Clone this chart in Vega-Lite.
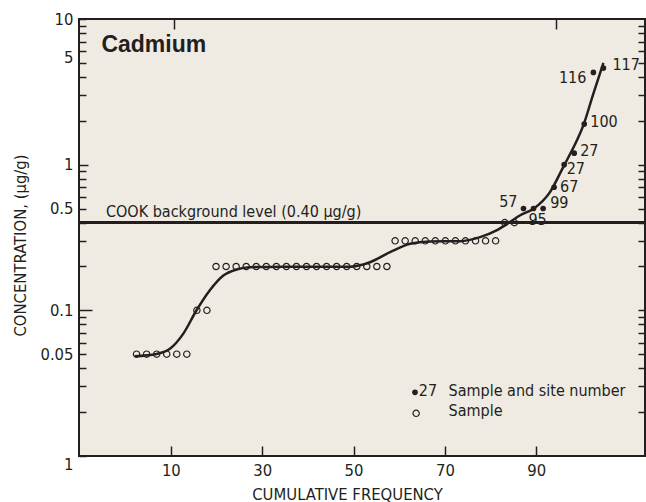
{
  "$schema": "https://vega.github.io/schema/vega-lite/v6.json",
  "width": 566,
  "height": 437,
  "autosize": {"type": "none"},
  "padding": {"left": 79, "top": 19, "right": 1, "bottom": 46},
  "background": "white",
  "config": {
    "view": {"fill": "#efebe2", "stroke": "#231f20", "strokeWidth": 2},
    "font": "DejaVu Sans Condensed",
    "axis": {
      "labelFont": "DejaVu Sans Condensed",
      "labelFontSize": 16.5,
      "labelColor": "#231f20",
      "tickColor": "#231f20",
      "tickWidth": 1.5,
      "titleFont": "DejaVu Sans Condensed",
      "titleFontSize": 16.5,
      "titleFontWeight": "normal",
      "titleColor": "#231f20",
      "domain": false,
      "grid": false,
      "labelFlush": false,
      "labelOverlap": false
    },
    "text": {"font": "DejaVu Sans Condensed", "fontSize": 16, "color": "#231f20"}
  },
  "datasets": {
    "samples": [
      {"n": 1, "freq": 2.5, "conc": 0.05, "kind": "Sample", "site": ""},
      {"n": 2, "freq": 4.7, "conc": 0.05, "kind": "Sample", "site": ""},
      {"n": 3, "freq": 6.9, "conc": 0.05, "kind": "Sample", "site": ""},
      {"n": 4, "freq": 9.1, "conc": 0.05, "kind": "Sample", "site": ""},
      {"n": 5, "freq": 11.3, "conc": 0.05, "kind": "Sample", "site": ""},
      {"n": 6, "freq": 13.5, "conc": 0.05, "kind": "Sample", "site": ""},
      {"n": 7, "freq": 15.7, "conc": 0.1, "kind": "Sample", "site": ""},
      {"n": 8, "freq": 17.9, "conc": 0.1, "kind": "Sample", "site": ""},
      {"n": 9, "freq": 19.9, "conc": 0.2, "kind": "Sample", "site": ""},
      {"n": 10, "freq": 22.1, "conc": 0.2, "kind": "Sample", "site": ""},
      {"n": 11, "freq": 24.3, "conc": 0.2, "kind": "Sample", "site": ""},
      {"n": 12, "freq": 26.5, "conc": 0.2, "kind": "Sample", "site": ""},
      {"n": 13, "freq": 28.7, "conc": 0.2, "kind": "Sample", "site": ""},
      {"n": 14, "freq": 30.9, "conc": 0.2, "kind": "Sample", "site": ""},
      {"n": 15, "freq": 33.1, "conc": 0.2, "kind": "Sample", "site": ""},
      {"n": 16, "freq": 35.3, "conc": 0.2, "kind": "Sample", "site": ""},
      {"n": 17, "freq": 37.5, "conc": 0.2, "kind": "Sample", "site": ""},
      {"n": 18, "freq": 39.7, "conc": 0.2, "kind": "Sample", "site": ""},
      {"n": 19, "freq": 41.9, "conc": 0.2, "kind": "Sample", "site": ""},
      {"n": 20, "freq": 44.1, "conc": 0.2, "kind": "Sample", "site": ""},
      {"n": 21, "freq": 46.3, "conc": 0.2, "kind": "Sample", "site": ""},
      {"n": 22, "freq": 48.5, "conc": 0.2, "kind": "Sample", "site": ""},
      {"n": 23, "freq": 50.7, "conc": 0.2, "kind": "Sample", "site": ""},
      {"n": 24, "freq": 52.9, "conc": 0.2, "kind": "Sample", "site": ""},
      {"n": 25, "freq": 55.1, "conc": 0.2, "kind": "Sample", "site": ""},
      {"n": 26, "freq": 57.3, "conc": 0.2, "kind": "Sample", "site": ""},
      {"n": 27, "freq": 59.1, "conc": 0.3, "kind": "Sample", "site": ""},
      {"n": 28, "freq": 61.3, "conc": 0.3, "kind": "Sample", "site": ""},
      {"n": 29, "freq": 63.5, "conc": 0.3, "kind": "Sample", "site": ""},
      {"n": 30, "freq": 65.7, "conc": 0.3, "kind": "Sample", "site": ""},
      {"n": 31, "freq": 67.9, "conc": 0.3, "kind": "Sample", "site": ""},
      {"n": 32, "freq": 70.1, "conc": 0.3, "kind": "Sample", "site": ""},
      {"n": 33, "freq": 72.3, "conc": 0.3, "kind": "Sample", "site": ""},
      {"n": 34, "freq": 74.5, "conc": 0.3, "kind": "Sample", "site": ""},
      {"n": 35, "freq": 76.7, "conc": 0.3, "kind": "Sample", "site": ""},
      {"n": 36, "freq": 78.9, "conc": 0.3, "kind": "Sample", "site": ""},
      {"n": 37, "freq": 81.1, "conc": 0.3, "kind": "Sample", "site": ""},
      {"n": 38, "freq": 83.1, "conc": 0.4, "kind": "Sample", "site": ""},
      {"n": 39, "freq": 85.2, "conc": 0.4, "kind": "Sample", "site": ""},
      {"n": 40, "freq": 87.2, "conc": 0.5, "kind": "Site", "site": "57"},
      {"n": 41, "freq": 89.4, "conc": 0.5, "kind": "Site", "site": "95"},
      {"n": 42, "freq": 91.5, "conc": 0.5, "kind": "Site", "site": "99"},
      {"n": 43, "freq": 93.9, "conc": 0.7, "kind": "Site", "site": "67"},
      {"n": 44, "freq": 96.1, "conc": 1.0, "kind": "Site", "site": "27"},
      {"n": 45, "freq": 98.3, "conc": 1.2, "kind": "Site", "site": "27"},
      {"n": 46, "freq": 100.5, "conc": 1.9, "kind": "Site", "site": "100"},
      {"n": 47, "freq": 102.5, "conc": 4.3, "kind": "Site", "site": "116"},
      {"n": 48, "freq": 104.7, "conc": 4.6, "kind": "Site", "site": "117"}
    ],
    "curve": [
      {"freq": 2.1, "conc": 0.0484},
      {"freq": 6.9, "conc": 0.0502},
      {"freq": 9.8, "conc": 0.0544},
      {"freq": 12.7, "conc": 0.0689},
      {"freq": 15.6, "conc": 0.0997},
      {"freq": 18.5, "conc": 0.1368},
      {"freq": 21.5, "conc": 0.1734},
      {"freq": 24.4, "conc": 0.1908},
      {"freq": 27.3, "conc": 0.1978},
      {"freq": 35.0, "conc": 0.199},
      {"freq": 49.2, "conc": 0.1995},
      {"freq": 53.6, "conc": 0.214},
      {"freq": 58.0, "conc": 0.2507},
      {"freq": 62.4, "conc": 0.2864},
      {"freq": 66.7, "conc": 0.297},
      {"freq": 73.3, "conc": 0.298},
      {"freq": 77.7, "conc": 0.318},
      {"freq": 81.3, "conc": 0.3535},
      {"freq": 84.2, "conc": 0.403},
      {"freq": 86.4, "conc": 0.448},
      {"freq": 89.4, "conc": 0.498},
      {"freq": 93.0, "conc": 0.648},
      {"freq": 95.9, "conc": 0.963},
      {"freq": 98.9, "conc": 1.469},
      {"freq": 100.3, "conc": 1.862},
      {"freq": 102.5, "conc": 3.076},
      {"freq": 104.7, "conc": 5.0}
    ],
    "notes": [
      {"role": "title", "freq": -5.2, "conc": 5.94, "text": "Cadmium"},
      {"role": "cook", "freq": -4.2, "conc": 0.436, "text": "COOK background level (0.40 µg/g)"},
      {"role": "leg", "freq": 70.8, "conc": 0.02597, "text": "Sample and site number"},
      {"role": "leg", "freq": 70.8, "conc": 0.01892, "text": "Sample"},
      {"role": "legnum", "freq": 64.3, "conc": 0.02811, "text": "27"}
    ],
    "legendmarks": [
      {"freq": 63.45, "conc": 0.02736, "kind": "Site"},
      {"freq": 63.7, "conc": 0.01963, "kind": "Sample"}
    ]
  },
  "data": {"name": "samples"},
  "resolve": {"axis": {"x": "independent", "y": "independent"}},
  "layer": [
    {
      "transform": [{"filter": "datum.kind == 'Sample'"}],
      "mark": {"type": "point", "shape": "circle", "filled": false, "stroke": "#231f20", "strokeWidth": 1.2, "size": 40, "opacity": 1},
      "encoding": {
        "x": {
          "field": "freq", "type": "quantitative",
          "scale": {"domain": [-10.1, 113.8], "nice": false, "zero": false},
          "axis": {
            "orient": "bottom",
            "values": [10, 30, 50, 70, 90],
            "tickSize": -10,
            "labelPadding": 16,
            "title": "CUMULATIVE FREQUENCY",
            "titleX": 268,
            "titleY": 43,
            "titleBaseline": "alphabetic",
            "titleAlign": "center"
          }
        },
        "y": {
          "field": "conc", "type": "quantitative",
          "scale": {"type": "log", "domain": [0.01, 10], "nice": false},
          "axis": {
            "orient": "left",
            "values": [0.01, 0.02, 0.03, 0.04, 0.05, 0.06, 0.07, 0.08, 0.09, 0.1, 0.2, 0.3, 0.4, 0.5, 0.6, 0.7, 0.8, 0.9, 1, 2, 3, 4, 5, 6, 7, 8, 9, 10],
            "labelExpr": "datum.value == 10 ? '10' : datum.value == 5 ? '5' : datum.value == 1 ? '1' : datum.value == 0.5 ? '0.5' : datum.value == 0.1 ? '0.1' : datum.value == 0.05 ? '0.05' : datum.value == 0.01 ? '1' : ''",
            "labelBaseline": {"condition": [{"test": "datum.value == 5", "value": "alphabetic"}, {"test": "datum.value == 0.01", "value": "top"}], "value": "middle"},
            "tickSize": {"condition": [{"test": "datum.value == 0.1", "value": -13}, {"test": "datum.value == 1", "value": -9}], "value": -7},
            "labelPadding": {"condition": [{"test": "datum.value == 0.1", "value": 19}, {"test": "datum.value == 1", "value": 15}], "value": 13},
            "title": "CONCENTRATION, (µg/g)",
            "titleAngle": 270,
            "titleX": -59,
            "titleY": 226,
            "titleBaseline": "middle",
            "titleAlign": "center"
          }
        }
      }
    },
    {
      "data": {"name": "curve"},
      "mark": {"type": "line", "interpolate": "monotone", "stroke": "#231f20", "strokeWidth": 2.5},
      "encoding": {
        "x": {"field": "freq", "type": "quantitative",
          "axis": {"orient": "top", "values": [10.7, 94.3], "labels": false, "tickSize": -10, "title": null}},
        "y": {"field": "conc", "type": "quantitative",
          "axis": {"orient": "right", "values": [0.02, 0.03, 0.04, 0.05, 0.06, 0.07, 0.08, 0.09, 0.1, 0.2, 0.3, 0.4, 0.5, 0.6, 0.7, 0.8, 0.9, 1, 2, 3, 4, 5, 6, 7, 8, 9], "labels": false, "tickSize": -7, "title": null}}
      }
    },
    {
      "mark": {"type": "rule", "stroke": "#231f20", "strokeWidth": 2},
      "encoding": {"y": {"datum": 0.4, "type": "quantitative", "axis": null}}
    },
    {
      "transform": [{"filter": "datum.kind == 'Site'"}],
      "mark": {"type": "circle", "size": 32, "color": "#231f20", "opacity": 1},
      "encoding": {
        "x": {"field": "freq", "type": "quantitative", "axis": null},
        "y": {"field": "conc", "type": "quantitative", "axis": null}
      }
    },
    {
      "transform": [{"filter": "datum.n == 40"}],
      "mark": {"type": "text", "align": "right", "baseline": "middle", "dx": -6, "dy": -7},
      "encoding": {"x": {"field": "freq", "type": "quantitative", "axis": null}, "y": {"field": "conc", "type": "quantitative", "axis": null}, "text": {"field": "site"}}
    },
    {
      "transform": [{"filter": "datum.n == 41"}],
      "mark": {"type": "text", "align": "center", "baseline": "middle", "dx": 4, "dy": 11},
      "encoding": {"x": {"field": "freq", "type": "quantitative", "axis": null}, "y": {"field": "conc", "type": "quantitative", "axis": null}, "text": {"field": "site"}}
    },
    {
      "transform": [{"filter": "datum.n == 42"}],
      "mark": {"type": "text", "align": "left", "baseline": "middle", "dx": 7, "dy": -6},
      "encoding": {"x": {"field": "freq", "type": "quantitative", "axis": null}, "y": {"field": "conc", "type": "quantitative", "axis": null}, "text": {"field": "site"}}
    },
    {
      "transform": [{"filter": "datum.n == 43"}],
      "mark": {"type": "text", "align": "left", "baseline": "middle", "dx": 6, "dy": 0},
      "encoding": {"x": {"field": "freq", "type": "quantitative", "axis": null}, "y": {"field": "conc", "type": "quantitative", "axis": null}, "text": {"field": "site"}}
    },
    {
      "transform": [{"filter": "datum.n == 44"}],
      "mark": {"type": "text", "align": "left", "baseline": "middle", "dx": 2.5, "dy": 4},
      "encoding": {"x": {"field": "freq", "type": "quantitative", "axis": null}, "y": {"field": "conc", "type": "quantitative", "axis": null}, "text": {"field": "site"}}
    },
    {
      "transform": [{"filter": "datum.n == 45 || datum.n == 46"}],
      "mark": {"type": "text", "align": "left", "baseline": "middle", "dx": 6, "dy": -2.5},
      "encoding": {"x": {"field": "freq", "type": "quantitative", "axis": null}, "y": {"field": "conc", "type": "quantitative", "axis": null}, "text": {"field": "site"}}
    },
    {
      "transform": [{"filter": "datum.n == 47"}],
      "mark": {"type": "text", "align": "right", "baseline": "middle", "dx": -7, "dy": 6},
      "encoding": {"x": {"field": "freq", "type": "quantitative", "axis": null}, "y": {"field": "conc", "type": "quantitative", "axis": null}, "text": {"field": "site"}}
    },
    {
      "transform": [{"filter": "datum.n == 48"}],
      "mark": {"type": "text", "align": "left", "baseline": "middle", "dx": 9, "dy": -3},
      "encoding": {"x": {"field": "freq", "type": "quantitative", "axis": null}, "y": {"field": "conc", "type": "quantitative", "axis": null}, "text": {"field": "site"}}
    },
    {
      "data": {"name": "notes"},
      "transform": [{"filter": "datum.role == 'title'"}],
      "mark": {"type": "text", "align": "left", "baseline": "alphabetic", "font": "Liberation Sans", "fontWeight": "bold", "fontSize": 23},
      "encoding": {"x": {"field": "freq", "type": "quantitative", "axis": null}, "y": {"field": "conc", "type": "quantitative", "axis": null}, "text": {"field": "text"}}
    },
    {
      "data": {"name": "notes"},
      "transform": [{"filter": "datum.role == 'cook' || datum.role == 'leg'"}],
      "mark": {"type": "text", "align": "left", "baseline": "alphabetic"},
      "encoding": {"x": {"field": "freq", "type": "quantitative", "axis": null}, "y": {"field": "conc", "type": "quantitative", "axis": null}, "text": {"field": "text"}}
    },
    {
      "data": {"name": "notes"},
      "transform": [{"filter": "datum.role == 'legnum'"}],
      "mark": {"type": "text", "align": "left", "baseline": "middle"},
      "encoding": {"x": {"field": "freq", "type": "quantitative", "axis": null}, "y": {"field": "conc", "type": "quantitative", "axis": null}, "text": {"field": "text"}}
    },
    {
      "data": {"name": "legendmarks"},
      "transform": [{"filter": "datum.kind == 'Site'"}],
      "mark": {"type": "circle", "size": 32, "color": "#231f20", "opacity": 1},
      "encoding": {"x": {"field": "freq", "type": "quantitative", "axis": null}, "y": {"field": "conc", "type": "quantitative", "axis": null}}
    },
    {
      "data": {"name": "legendmarks"},
      "transform": [{"filter": "datum.kind == 'Sample'"}],
      "mark": {"type": "point", "shape": "circle", "filled": false, "stroke": "#231f20", "strokeWidth": 1.2, "size": 40, "opacity": 1},
      "encoding": {"x": {"field": "freq", "type": "quantitative", "axis": null}, "y": {"field": "conc", "type": "quantitative", "axis": null}}
    }
  ]
}
